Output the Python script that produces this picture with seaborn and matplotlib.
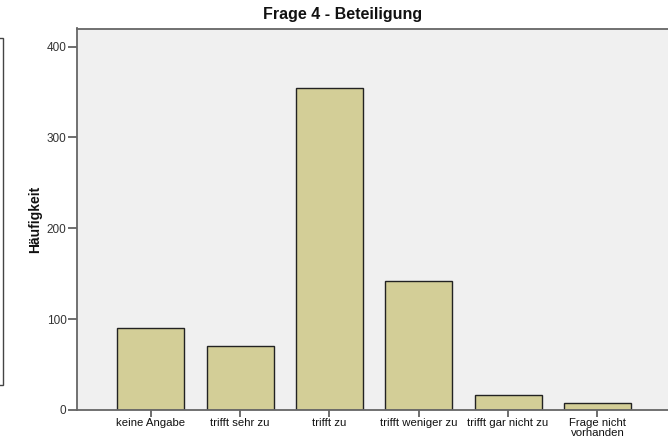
import matplotlib
matplotlib.use("Agg")
import matplotlib.pyplot as plt
import seaborn as sns
from matplotlib.patches import Rectangle

categories = ["keine Angabe", "trifft sehr zu", "trifft zu", "trifft weniger zu",
              "trifft gar nicht zu", "Frage nicht\nvorhanden"]
counts = [90, 71, 355, 142, 16, 8]
yticks = [0, 100, 200, 300, 400]

sns.set_style("white")
plt.rcParams['font.family'] = ['Liberation Sans', 'DejaVu Sans']
plt.rcParams['text.color'] = '#111111'

fig = plt.figure(figsize=(6.68, 4.41), dpi=100)
ax = fig.add_axes([77 / 668, 31 / 441, 1 - 77 / 668, 381.5 / 441])
ax.set_facecolor('#F0F0F0')

sns.barplot(x=categories, y=counts, color='#D3CE97', saturation=1, width=0.75,
            edgecolor='#222222', linewidth=1.0, ax=ax)

ax.set_xlim(-0.825, 5.79)
ax.set_ylim(0, 420)
ax.set_yticks(yticks)
ax.set_yticklabels([str(t) for t in yticks], fontsize=8.5)
ax.tick_params(axis='x', bottom=True, labelsize=8.2, colors='#555555', labelcolor='#111111',
               length=5.3, width=1.2, direction='out', pad=0.5)
ax.tick_params(axis='y', left=True, length=6.5, width=1.2, colors='#555555',
               labelcolor='#333333', direction='out', pad=1)
for lbl in ax.get_xticklabels():
    lbl.set_linespacing(0.95)
ax.set_xlabel('')
ax.set_ylabel('Häufigkeit', fontsize=10, fontweight='bold', color='#111111')
ax.yaxis.set_label_coords(-0.059, 0.5)

for side in ['left', 'bottom', 'top']:
    ax.spines[side].set_color('#666666')
    ax.spines[side].set_linewidth(1.3)
ax.spines['right'].set_visible(False)

fig.text(343 / 668, 1 - 15 / 441, 'Frage 4 - Beteiligung', ha='center', va='center',
         fontsize=11.5, fontweight='bold', color='#111111')

# left frame remnant
fig.patches.append(Rectangle((-10 / 668, 1 - 385 / 441), 13 / 668, 347 / 441,
                             transform=fig.transFigure, fill=False,
                             edgecolor='#444444', linewidth=1.0))

fig.savefig('out.png', dpi=100)
